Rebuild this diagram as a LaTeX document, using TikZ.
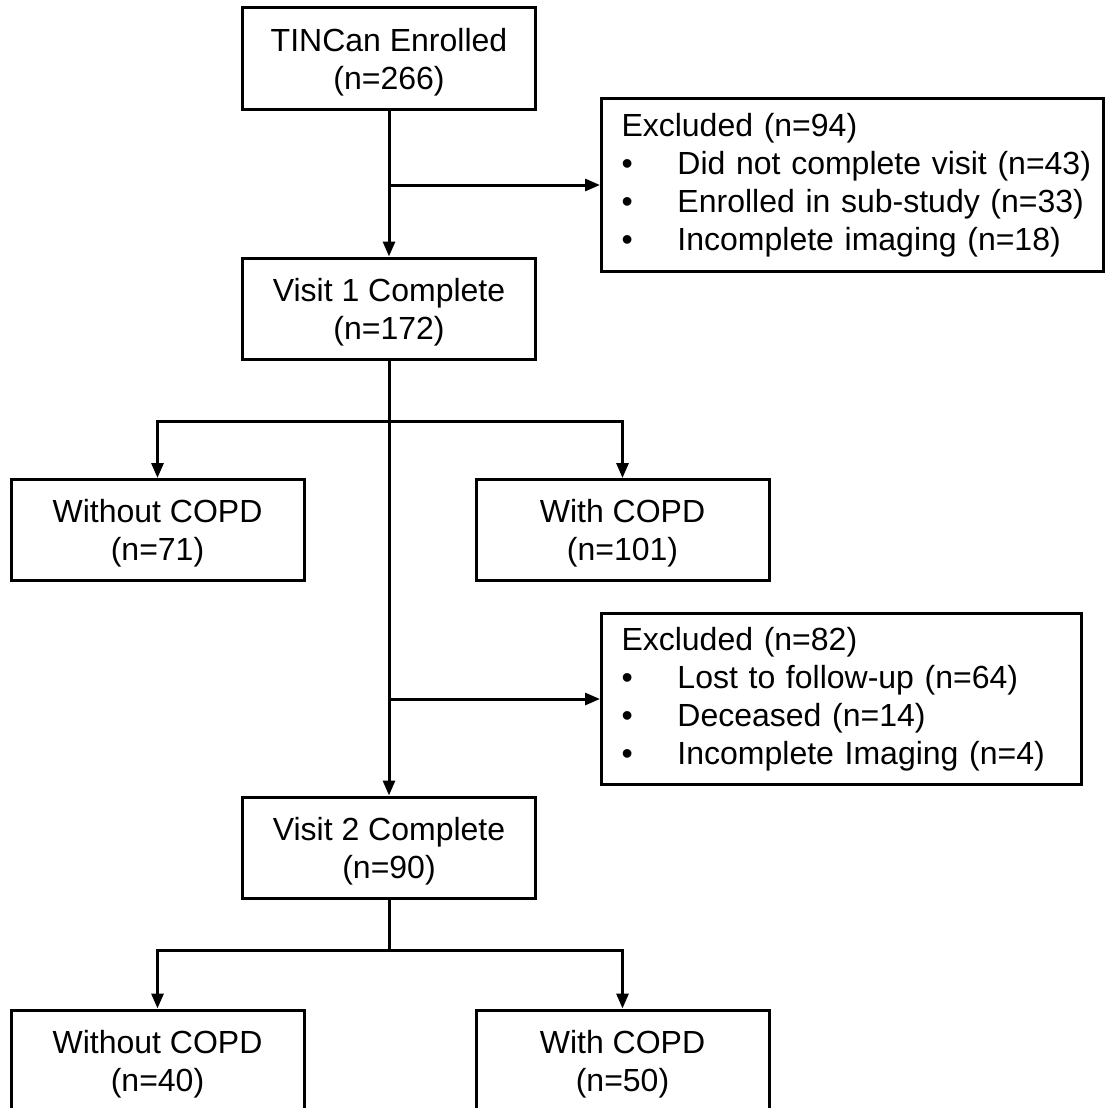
\documentclass[tikz,border=0pt]{standalone}
\usepackage{fontspec}
\setmainfont{Liberation Sans}
\usetikzlibrary{arrows.meta}
\begin{document}
\begin{tikzpicture}[x=1pt,y=-1pt,
  box/.style={draw, line width=3pt, minimum width=293pt, minimum height=101pt,
    align=center, inner sep=0pt, font=\fontsize{32}{38}\selectfont},
  exbox/.style={draw, line width=3pt, align=left, inner xsep=20pt, inner ysep=0pt,
    font=\fontsize{32}{38}\selectfont, anchor=north west},
  arr/.style={line width=3pt, -{Triangle[length=15pt,width=12pt]}},
  ln/.style={line width=3pt}]
\useasboundingbox (0,0) rectangle (1105,1108);
\fill[white] (0,0) rectangle (1105,1108);
\newcommand{\bul}{\makebox[56pt][l]{•}}
% main column
\node[box] (tin) at (389,58.5) {TINCan Enrolled\\\smash{(n=266)}};
\node[box] (v1) at (389,308.5) {Visit 1 Complete\\\smash{(n=172)}};
\node[box] (wo1) at (157.5,530) {Without COPD\\\smash{(n=71)}};
\node[box] (w1) at (622.5,530) {With COPD\\\smash{(n=101)}};
\node[box] (v2) at (389,847.5) {Visit 2 Complete\\\smash{(n=90)}};
\node[box] (wo2) at (157.5,1060.5) {Without COPD\\\smash{(n=40)}};
\node[box] (w2) at (622.5,1060.5) {With COPD\\\smash{(n=50)}};
% exclusion boxes
\node[exbox, text width=462pt, minimum height=173pt] (ex1) at (600,97)
  {\mbox{Excluded (n=94)}\\
   \mbox{\bul Did not complete visit (n=43)}\\
   \mbox{\bul Enrolled in sub-study (n=33)}\\
   \mbox{\bul Incomplete imaging (n=18)}};
\node[exbox, text width=440pt, minimum height=171pt] (ex2) at (600,612)
  {\mbox{Excluded (n=82)}\\
   \mbox{\bul Lost to follow-up (n=64)}\\
   \mbox{\bul Deceased (n=14)}\\
   \mbox{\bul Incomplete Imaging (n=4)}};
% connectors
\draw[arr] (tin) -- (v1);
\draw[arr] (tin.south |- ex1.west) -- (ex1.west);
\coordinate (b1) at (389,421);
\draw[arr] (v1) -- (v2);
\draw[arr] (b1) -| (wo1.north);
\draw[arr] (b1) -| (w1.north);
\draw[arr] (v1.south |- ex2.west) -- (ex2.west);
\coordinate (b2) at (389,950);
\draw[ln] (v2.south) -- (b2);
\draw[arr] (b2) -| (wo2.north);
\draw[arr] (b2) -| (w2.north);
\end{tikzpicture}
\end{document}
